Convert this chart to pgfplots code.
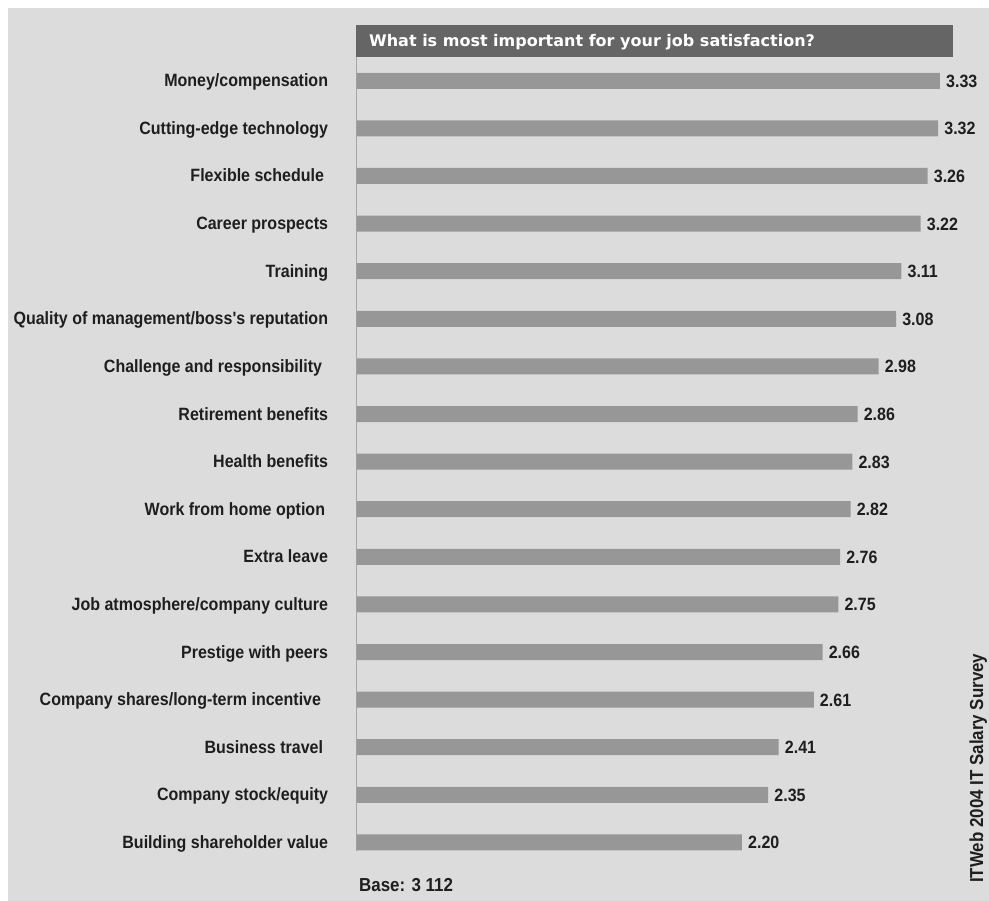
\documentclass[border=0pt]{standalone}
\usepackage{pgfplots}
\pgfplotsset{compat=1.18}
\usepackage{fontspec}
\setmainfont{Liberation Sans}
\newfontfamily\lblfont[FakeStretch=0.9]{Liberation Sans}
\newfontfamily\titlefont{DejaVu Sans}
\definecolor{bg}{HTML}{DCDCDC}
\definecolor{titlebg}{HTML}{656565}
\definecolor{barc}{HTML}{979797}
\definecolor{axisc}{HTML}{A6A6A6}
\definecolor{labelc}{HTML}{1E1E1E}
\newcommand\lbl{\lblfont\bfseries\fontsize{17.8bp}{20bp}\selectfont}
\newcommand\lblbig{\lblfont\bfseries\fontsize{18.8bp}{21bp}\selectfont}
\newcommand\titlestyle{\titlefont\bfseries\fontsize{16bp}{18bp}\selectfont}
\begin{document}
\begin{tikzpicture}
\useasboundingbox (0bp,0bp) rectangle (989bp,901bp);
\fill[white] (0bp,0bp) rectangle (989bp,901bp);
\fill[bg] (8bp,0bp) rectangle (989bp,893bp);
\fill[titlebg] (356bp,844bp) rectangle (953bp,876bp);
\node[anchor=base west, inner sep=0pt, text=white, font=\titlestyle] at (369bp,854bp) {What is most important for your job satisfaction?};
\begin{axis}[
  at={(356.5bp,50bp)}, anchor=south west,
  scale only axis, width=599.2bp, height=794bp,
  xmin=0, xmax=3.42, ymin=0.82, ymax=17.5,
  xbar, bar width=16bp,
  axis x line=none,
  axis y line*=left,
  axis line style={-, draw=axisc, line width=1.5bp},
  ytick={1,...,17},
  ytick style={draw=none},
  yticklabels={
    Building shareholder value,
    Company stock/equity,
    Business travel\hspace*{5bp},
    Company shares/long-term incentive\hspace*{7bp},
    Prestige with peers,
    Job atmosphere/company culture,
    Extra leave,
    Work from home option\hspace*{3bp},
    Health benefits,
    Retirement benefits,
    Challenge and responsibility\hspace*{6bp},
    Quality of management/boss's reputation,
    Training,
    Career prospects,
    Flexible schedule\hspace*{4bp},
    Cutting-edge technology,
    Money/compensation},
  yticklabel style={font=\lbl, text=labelc, anchor=base east, inner sep=0pt, xshift=-24bp, yshift=-6bp},
  clip=false,
  point meta=x,
  nodes near coords={\pgfmathprintnumber[fixed,zerofill,precision=2]{\pgfplotspointmeta}},
  every node near coord/.append style={font=\lbl, text=labelc, anchor=base west, inner sep=0pt, xshift=6bp, yshift=-6.5bp},
  /pgf/number format/assume math mode=true,
]
\addplot[fill=barc, draw=none] coordinates {
  (2.20,1) (2.35,2) (2.41,3) (2.61,4) (2.66,5) (2.75,6) (2.76,7) (2.82,8) (2.83,9)
  (2.86,10) (2.98,11) (3.08,12) (3.11,13) (3.22,14) (3.26,15) (3.32,16) (3.33,17)};
\end{axis}
\node[anchor=base west, inner sep=0pt, text=labelc, font=\lblbig] at (359bp,9.5bp) {Base: 3 112};
\node[rotate=90, anchor=base west, inner sep=0pt, text=labelc, font=\lblbig] at (983bp,18bp) {ITWeb 2004 IT Salary Survey};
\end{tikzpicture}
\end{document}
